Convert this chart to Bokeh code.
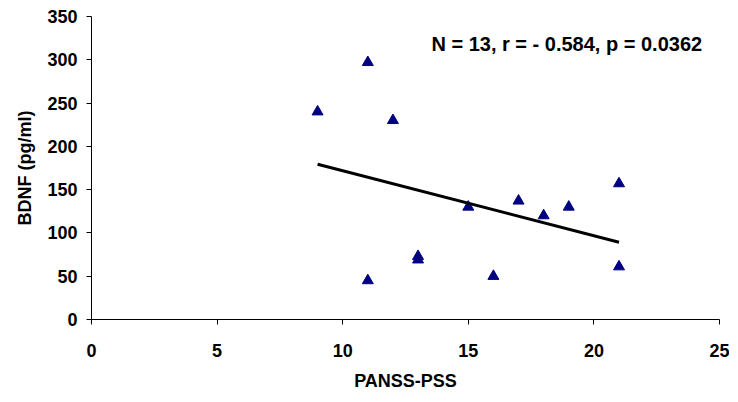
from bokeh.plotting import figure
from bokeh.models import Range1d, Label, SingleIntervalTicker, ColumnDataSource
from bokeh.embed import file_html
from bokeh.resources import INLINE
import numpy as np

# data
panss_pss = [9, 11, 11, 12, 13, 13, 15, 16, 17, 18, 19, 21, 21]
bdnf = [240, 297, 45, 230, 73, 69, 130, 50, 137, 120, 130, 157, 61]
x_title = "PANSS-PSS"
y_title = "BDNF (pg/ml)"
stats_text = "N = 13, r = - 0.584, p = 0.0362"

FONT = "Liberation Sans"

p = figure(width=729, height=394, output_backend="svg", toolbar_location=None,
           x_range=Range1d(0, 25), y_range=Range1d(0, 350))
p.frame_width = 628
p.frame_height = 303
p.min_border_left = 91
p.min_border_top = 16
p.min_border_right = 10
p.min_border_bottom = 10
p.outline_line_color = None
p.xgrid.visible = False
p.ygrid.visible = False
p.background_fill_color = "white"
p.border_fill_color = "white"

src = ColumnDataSource(dict(x=panss_pss, y=bdnf))
p.scatter("x", "y", source=src, marker="triangle", size=11,
          fill_color="#000080", line_color="#000080")

# least-squares trend line over the data range
slope, intercept = np.polyfit(panss_pss, bdnf, 1)
xs = [min(panss_pss), max(panss_pss)]
p.line(xs, [slope * v + intercept for v in xs], line_color="black", line_width=3)

p.xaxis.ticker = SingleIntervalTicker(interval=5)
p.yaxis.ticker = SingleIntervalTicker(interval=50)
for ax in (p.xaxis[0], p.yaxis[0]):
    ax.axis_line_color = "black"
    ax.axis_line_width = 1
    ax.major_tick_line_color = "black"
    ax.major_tick_out = 5
    ax.major_tick_in = 0
    ax.minor_tick_out = 0
    ax.minor_tick_in = 0
    ax.major_label_text_font = FONT
    ax.major_label_text_font_style = "bold"
    ax.major_label_text_font_size = "18px"
    ax.major_label_text_color = "black"
    ax.axis_label_text_font = FONT
    ax.axis_label_text_font_style = "bold"
    ax.axis_label_text_font_size = "18px"
    ax.axis_label_text_color = "black"

p.xaxis.axis_label = x_title
p.yaxis.axis_label = y_title
p.xaxis.major_label_standoff = 19
p.yaxis.major_label_standoff = 9
p.xaxis.axis_label_standoff = 11
p.yaxis.axis_label_standoff = 9

stats_x = 18.92
stats_y = 318.8
p.add_layout(Label(x=stats_x, y=stats_y, text=stats_text, text_font=FONT,
                   text_font_style="bold", text_font_size="20px",
                   text_align="center", text_baseline="middle", text_color="black"))

open("out.html", "w").write(file_html(p, INLINE))
